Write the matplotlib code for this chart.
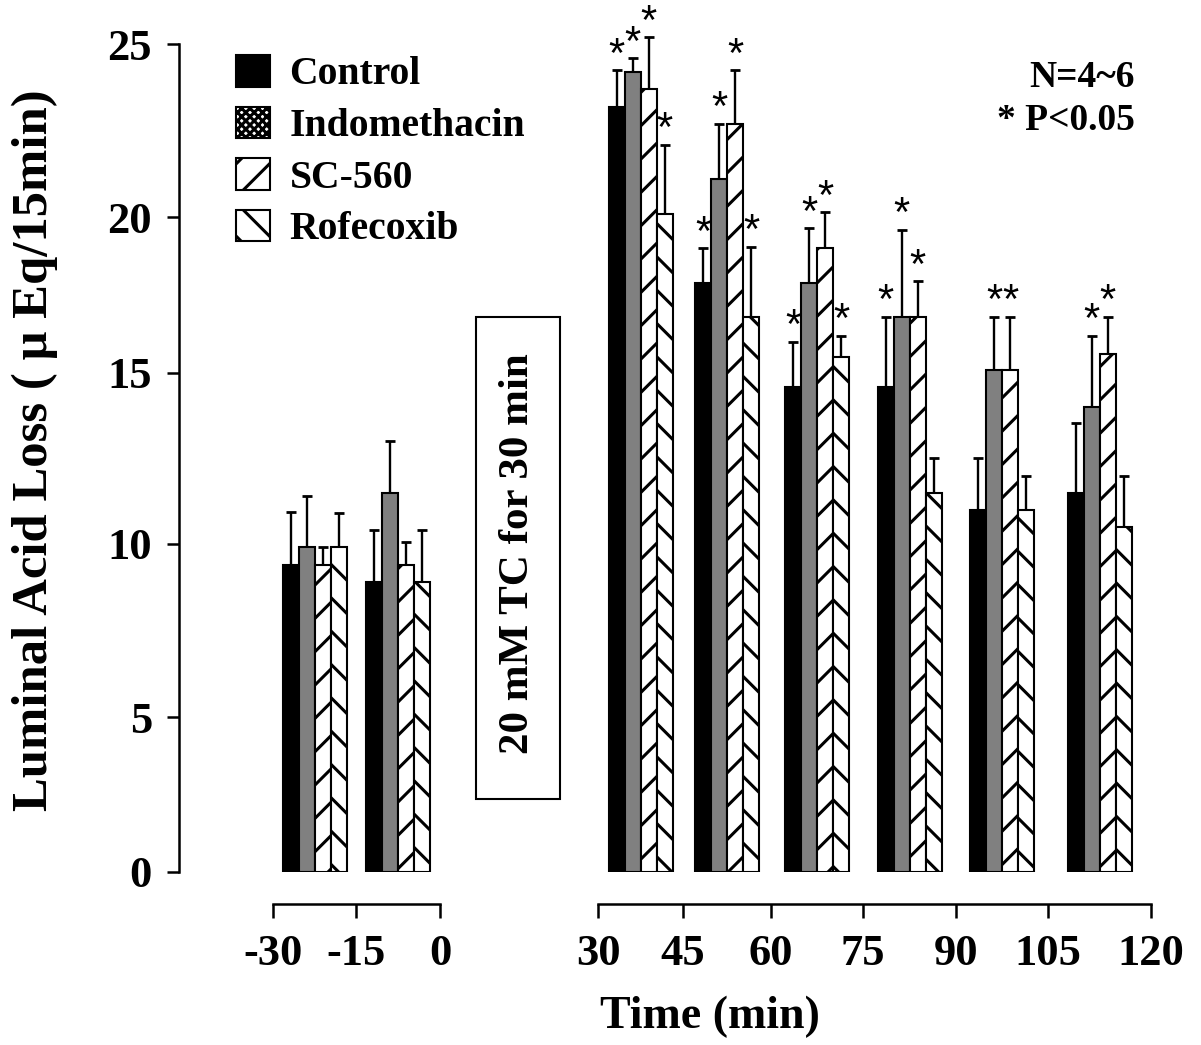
import numpy as np
import matplotlib
matplotlib.use("Agg")
import matplotlib.pyplot as plt
from matplotlib.patches import Patch, Rectangle

# ---------------- data ----------------
series_names = ["Control", "Indomethacin", "SC-560", "Rofecoxib"]
period_start = [-30, -15, 30, 45, 60, 75, 90, 105]   # start of each 15-min period
pre_ticks = [-30, -15, 0]
post_ticks = [30, 45, 60, 75, 90, 105, 120]
y_ticks = [0, 5, 10, 15, 20, 25]

control = [9.4, 8.9, 23.2, 17.9, 14.6, 14.6, 11.0, 11.5]
indomethacin = [9.9, 11.5, 24.2, 21.1, 17.9, 16.8, 15.1, 14.0]
sc560 = [9.4, 9.4, 23.7, 22.7, 19.0, 16.8, 15.1, 15.6]
rofecoxib = [9.9, 8.9, 20.1, 16.8, 15.5, 11.5, 11.0, 10.5]

control_err = [1.55, 1.5, 1.05, 1.1, 1.4, 2.2, 1.5, 2.05]
indomethacin_err = [1.5, 1.5, 0.4, 1.6, 1.75, 2.8, 1.7, 2.2]
sc560_err = [0.5, 0.65, 1.5, 1.55, 1.15, 1.15, 1.7, 1.2]
rofecoxib_err = [1.0, 1.5, 2.0, 2.25, 0.7, 1.0, 1.0, 1.5]

control_sig = [0, 0, 1, 1, 1, 1, 0, 0]
indomethacin_sig = [0, 0, 1, 1, 1, 1, 1, 1]
sc560_sig = [0, 0, 1, 1, 1, 1, 1, 1]
rofecoxib_sig = [0, 0, 1, 1, 1, 0, 0, 0]

# ---------------- style / layout ----------------
plt.rcParams["font.family"] = ["Liberation Serif", "DejaVu Serif"]
plt.rcParams["font.weight"] = "bold"
plt.rcParams["hatch.linewidth"] = 2.2

W, H = 1201, 1045
fig = plt.figure(figsize=(W / 100, H / 100), dpi=100)


def fx(px):
    return px / W


def fy(py):
    return 1 - py / H


def piecewise(xs, ys):
    xs = np.asarray(xs, float)
    ys = np.asarray(ys, float)
    s0 = (ys[1] - ys[0]) / (xs[1] - xs[0])
    s1 = (ys[-1] - ys[-2]) / (xs[-1] - xs[-2])

    def f(v):
        v = np.asarray(v, float)
        out = np.interp(v, xs, ys)
        out = np.where(v < xs[0], ys[0] + (v - xs[0]) * s0, out)
        out = np.where(v > xs[-1], ys[-1] + (v - xs[-1]) * s1, out)
        return out
    return f


# pixel positions of the (unevenly drawn) ticks in the original figure
y_px = [871.7, 717.3, 544.0, 373.0, 217.3, 44.3]
pre_px = [273, 356, 440]
post_px = [598, 683, 771, 863, 956, 1048, 1151]

y_rel = [y_px[0] - p for p in y_px]
yf, yi = piecewise(y_ticks, y_rel), piecewise(y_rel, y_ticks)
ax_bottom = fy(y_px[0])
ax_height = (y_px[0] - y_px[-1]) / H

styles = [
    dict(color="black", hatch=None),
    dict(color="#808080", hatch=None),
    dict(color="white", hatch="/"),
    dict(color="white", hatch="\\"),
]
values = [control, indomethacin, sc560, rofecoxib]
errors = [control_err, indomethacin_err, sc560_err, rofecoxib_err]
sigs = [control_sig, indomethacin_sig, sc560_sig, rofecoxib_sig]

LW = 1.8
TICK_FS = 32

# y axis frame
ax_y = fig.add_axes([fx(179), ax_bottom, fx(1151 - 179), ax_height])
ax_y.set_yscale("function", functions=(yf, yi))
ax_y.set_ylim(0, 25)
ax_y.set_yticks(y_ticks)
ax_y.set_yticklabels([str(t) for t in y_ticks])
ax_y.set_xticks([])
for s in ["top", "right", "bottom"]:
    ax_y.spines[s].set_visible(False)
ax_y.spines["left"].set_linewidth(LW)
ax_y.tick_params(axis="y", direction="out", length=8.5, width=LW, pad=11, labelsize=TICK_FS)
ax_y.patch.set_visible(False)

BW = 16.0  # bar width in pixels

for ticks, px in [(pre_ticks, pre_px), (post_ticks, post_px)]:
    rel = [p - px[0] for p in px]
    xf, xi = piecewise(ticks, rel), piecewise(rel, ticks)
    ax = fig.add_axes([fx(px[0]), ax_bottom, (px[-1] - px[0]) / W, ax_height])
    ax.set_xscale("function", functions=(xf, xi))
    ax.set_yscale("function", functions=(yf, yi))
    ax.set_xlim(ticks[0], ticks[-1])
    ax.set_ylim(0, 25)
    ax.patch.set_visible(False)
    for s in ["top", "right", "left"]:
        ax.spines[s].set_visible(False)
    ax.spines["bottom"].set_position(("outward", 23))
    ax.spines["bottom"].set_linewidth(LW)
    ax.set_xticks(ticks)
    ax.set_xticklabels([str(t) for t in ticks])
    ax.set_yticks([])
    ax.tick_params(axis="x", direction="out", length=10, width=LW, pad=12, labelsize=TICK_FS)

    idx = [i for i, s in enumerate(period_start) if ticks[0] <= s < ticks[-1]]
    centers_px = xf([period_start[i] + 7.5 for i in idx])
    for k in range(4):
        left_px = centers_px + (k - 2) * BW
        lefts = xi(left_px)
        widths = xi(left_px + BW) - lefts
        mids = xi(left_px + BW / 2)
        vals = np.array([values[k][i] for i in idx])
        errs = np.array([errors[k][i] for i in idx])
        st = styles[k]
        ax.bar(lefts, vals, width=widths, align="edge", color=st["color"],
               edgecolor="black", linewidth=1.5, hatch=st["hatch"], zorder=3)
        eb = ax.errorbar(mids, vals, yerr=[np.zeros_like(errs), errs], fmt="none",
                         ecolor="black", elinewidth=1.7, capsize=3.3, capthick=2.0, zorder=2)
        for art in eb.lines:
            arts = art if isinstance(art, (tuple, list)) else [art]
            for a in arts:
                if a is not None:
                    a.set_clip_on(False)
        for j, i in enumerate(idx):
            if sigs[k][i]:
                ax.annotate("*", xy=(mids[j], vals[j] + errs[j]), xytext=(0, 2.5),
                            textcoords="offset points", ha="center", va="baseline",
                            fontsize=30, family="Liberation Sans", fontweight="normal",
                            annotation_clip=False)

# treatment box
fig.add_artist(Rectangle((fx(476), fy(799)), (560 - 476) / W, (799 - 317) / H,
                         transform=fig.transFigure, fill=False, lw=1.5, edgecolor="black"))
fig.text(fx(518), fy(553.5), "20 mM TC for 30 min", rotation=90, ha="center", va="center",
         fontsize=31, fontweight="bold")

# labels
fig.text(fx(35), fy(450.5), "Luminal Acid Loss ( \u03bc Eq/15min)", rotation=90,
         ha="center", va="center", fontsize=36.5, fontweight="bold")
fig.text(fx(710), fy(1017), "Time (min)", ha="center", va="center", fontsize=33,
         fontweight="bold")

fig.text(fx(1135), fy(87), "N=4~6", ha="right", va="baseline", fontsize=27, fontweight="bold")
fig.text(fx(1135), fy(130), "* P<0.05", ha="right", va="baseline", fontsize=27, fontweight="bold")

# legend
handles = [
    Patch(facecolor="black", edgecolor="black", linewidth=1.5),
    Patch(facecolor="white", edgecolor="black", linewidth=1.5, hatch="xxxx"),
    Patch(facecolor="white", edgecolor="black", linewidth=1.5, hatch="/"),
    Patch(facecolor="white", edgecolor="black", linewidth=1.5, hatch="\\"),
]
fig.legend(handles, series_names, loc="upper left", bbox_to_anchor=(fx(236), fy(55)),
           frameon=False, prop=dict(size=28.5, weight="bold"), handlelength=0.85,
           handleheight=0.85, handletextpad=0.5, labelspacing=0.33, borderpad=0,
           borderaxespad=0)

fig.savefig("out.png", dpi=100)
